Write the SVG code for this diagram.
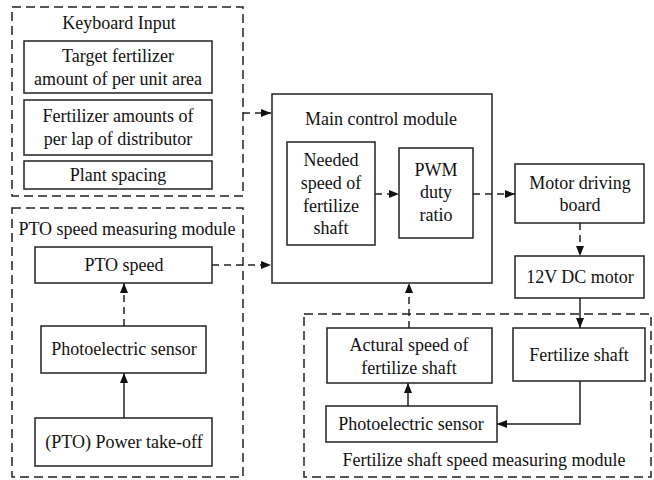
<svg xmlns="http://www.w3.org/2000/svg" width="654" height="480" viewBox="0 0 654 480">
<defs>
<marker id="ah" markerUnits="userSpaceOnUse" markerWidth="11" markerHeight="9" refX="10" refY="4" orient="auto">
<path d="M0,0 L10,4 L0,8 z" fill="#111"/>
</marker>
<style>
.box{fill:#fff;stroke:#222;stroke-width:1.5}
.grp{fill:none;stroke:#222;stroke-width:1.5;stroke-dasharray:9 5}
.t{font-family:"Liberation Serif","Times New Roman",serif;font-size:18px;fill:#111;text-anchor:middle}
.c{fill:none;stroke:#222;stroke-width:1.5;marker-end:url(#ah)}
.d{stroke-dasharray:7 5}
</style>
</defs>
<rect width="654" height="480" fill="#fff"/>

<g id="keyboard-input">
<rect class="grp" x="12" y="7" width="231" height="189"/>
<text class="t" x="119" y="29">Keyboard Input</text>
</g>
<g id="target-fertilizer">
<rect class="box" x="24" y="41" width="188" height="52"/>
<text class="t" x="118" y="62">Target fertilizer</text>
<text class="t" x="118" y="85">amount of per unit area</text>
</g>
<g id="fertilizer-amounts">
<rect class="box" x="24" y="100" width="188" height="55"/>
<text class="t" x="118" y="122">Fertilizer amounts of</text>
<text class="t" x="118" y="145">per lap of distributor</text>
</g>
<g id="plant-spacing">
<rect class="box" x="24" y="161" width="188" height="28"/>
<text class="t" x="118" y="181">Plant spacing</text>
</g>

<g id="pto-module">
<rect class="grp" x="12" y="208" width="231" height="269"/>
<text class="t" x="127" y="235">PTO speed measuring module</text>
</g>
<g id="pto-speed">
<rect class="box" x="35" y="247" width="177" height="36"/>
<text class="t" x="124" y="271">PTO speed</text>
</g>
<g id="pto-sensor">
<rect class="box" x="41" y="326" width="165" height="47"/>
<text class="t" x="124" y="355">Photoelectric sensor</text>
</g>
<g id="pto-power">
<rect class="box" x="35" y="418" width="177" height="48"/>
<text class="t" x="124" y="448">(PTO) Power take-off</text>
</g>

<g id="main-control">
<rect class="box" x="272" y="94" width="220" height="189"/>
<text class="t" x="381" y="125">Main control module</text>
</g>
<g id="needed-speed">
<rect class="box" x="287" y="142" width="88" height="103"/>
<text class="t" x="331" y="166">Needed</text>
<text class="t" x="331" y="189">speed of</text>
<text class="t" x="331" y="212">fertilize</text>
<text class="t" x="331" y="234">shaft</text>
</g>
<g id="pwm">
<rect class="box" x="399" y="148" width="74" height="90"/>
<text class="t" x="436" y="176">PWM</text>
<text class="t" x="436" y="198">duty</text>
<text class="t" x="436" y="221">ratio</text>
</g>

<g id="motor-driving">
<rect class="box" x="515" y="164" width="129" height="59"/>
<text class="t" x="580" y="189">Motor driving</text>
<text class="t" x="580" y="211">board</text>
</g>
<g id="dc-motor">
<rect class="box" x="515" y="256" width="129" height="42"/>
<text class="t" x="580" y="283">12V DC motor</text>
</g>

<g id="shaft-module">
<rect class="grp" x="304" y="314" width="347" height="163"/>
<text class="t" x="484" y="466">Fertilize shaft speed measuring module</text>
</g>
<g id="actural-speed">
<rect class="box" x="327" y="328" width="165" height="55"/>
<text class="t" x="409" y="351">Actural speed of</text>
<text class="t" x="409" y="374">fertilize shaft</text>
</g>
<g id="fertilize-shaft">
<rect class="box" x="513" y="328" width="132" height="53"/>
<text class="t" x="579" y="361">Fertilize shaft</text>
</g>
<g id="shaft-sensor">
<rect class="box" x="326" y="406" width="171" height="36"/>
<text class="t" x="411" y="430">Photoelectric sensor</text>
</g>

<g id="connectors">
<path class="c d" d="M243,113 H271"/>
<path class="c d" d="M212,265 H271"/>
<path class="c d" d="M375,194 H399"/>
<path class="c d" d="M473,194 H515"/>
<path class="c d" d="M580,223 V256"/>
<path class="c" d="M580,298 V328"/>
<path class="c" d="M580,381 V424 H497"/>
<path class="c" d="M408,406 V383"/>
<path class="c d" d="M409,328 V283"/>
<path class="c" d="M124,418 V373"/>
<path class="c d" d="M124,326 V283"/>
</g>
</svg>
